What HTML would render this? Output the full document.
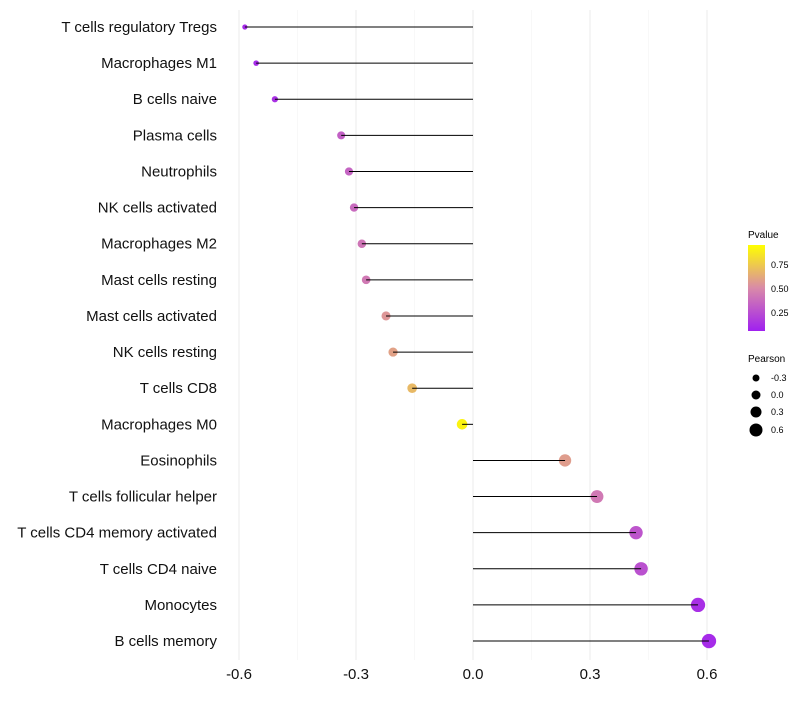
<!DOCTYPE html>
<html><head><meta charset="utf-8"><style>
body{margin:0;background:#fff;font-family:"Liberation Sans",sans-serif}
</style></head><body>
<svg id="chart" width="800" height="700" xmlns="http://www.w3.org/2000/svg">
<defs><linearGradient id="pg" x1="0" y1="1" x2="0" y2="0">
<stop offset="0" stop-color="#A020F0"/><stop offset="0.5" stop-color="#D98AA8"/><stop offset="1" stop-color="#FFFF00"/>
</linearGradient></defs>
<g id="grid"></g><g id="pts"></g><g id="marks"></g><g id="labels"></g>
<g font-size="9">
<text x="748" y="238" font-size="10">Pvalue</text>
<rect x="748" y="245" width="17" height="86" fill="url(#pg)"/>
<text x="771" y="268">0.75</text><text x="771" y="292">0.50</text><text x="771" y="316">0.25</text>
</g>
<g font-size="9">
<text x="748" y="362" font-size="10">Pearson</text>
<circle cx="756" cy="378" r="3.5"/><text x="771" y="381">-0.3</text>
<circle cx="756" cy="395" r="4.5"/><text x="771" y="398">0.0</text>
<circle cx="756" cy="412" r="5.5"/><text x="771" y="415">0.3</text>
<circle cx="756" cy="430" r="6.5"/><text x="771" y="433">0.6</text>
</g>
</svg>
<script>
const cells=["T cells regulatory  Tregs","Macrophages M1","B cells naive","Plasma cells","Neutrophils","NK cells activated","Macrophages M2","Mast cells resting","Mast cells activated","NK cells resting","T cells CD8","Macrophages M0","Eosinophils","T cells follicular helper","T cells CD4 memory activated","T cells CD4 naive","Monocytes","B cells memory"];
const pearson=[-0.585,-0.556,-0.508,-0.338,-0.318,-0.305,-0.285,-0.274,-0.223,-0.205,-0.156,-0.028,0.236,0.318,0.418,0.431,0.577,0.605];
const pvalue=[0.05,0.05,0.08,0.3,0.32,0.35,0.4,0.42,0.55,0.6,0.7,0.95,0.58,0.42,0.25,0.23,0.07,0.05];
const ticks=[-0.6,-0.3,0,0.3,0.6];
const tickLabels=["-0.6","-0.3","0.0","0.3","0.6"];
const NS="http://www.w3.org/2000/svg";
const x=v=>473+v*390, y=i=>27+i*36.12;
function mk(t,a,p){const e=document.createElementNS(NS,t);for(const k in a)e.setAttribute(k,a[k]);p.appendChild(e);return e;}
function lerp(a,b,t){return a.map((v,i)=>Math.round(v+(b[i]-v)*t));}
function col(p){const s=[[160,32,240],[217,138,168],[255,255,0]];let t=Math.max(0,Math.min(1,p));const c=t<0.5?lerp(s[0],s[1],t/0.5):lerp(s[1],s[2],(t-0.5)/0.5);return `rgb(${c})`;}
const g=document.getElementById('grid'),m=document.getElementById('marks'),l=document.getElementById('labels'),pg=document.getElementById('pts');
[-0.45,-0.15,0.15,0.45].forEach(v=>{const e=mk('line',{x1:x(v),x2:x(v),y1:10,y2:660,stroke:'#f3f3f3','stroke-width':0.6},g);

});
ticks.forEach((v,i)=>{const e=mk('line',{x1:x(v),x2:x(v),y1:10,y2:660,stroke:'#ebebeb','stroke-width':1},g);


const t=mk('text',{x:x(v),y:679,'text-anchor':'middle','font-size':15,fill:'#111'},l);t.textContent=tickLabels[i];

});
cells.forEach((c,i)=>{const t=mk('text',{x:217,y:y(i)+5,'text-anchor':'end','font-size':15,fill:'#111'},l);t.textContent=c;


const ln=mk('line',{x1:x(0),x2:x(pearson[i]),y1:y(i),y2:y(i),stroke:'#000','stroke-width':1},m);


const r=Math.sqrt(Math.max(2.5,29+38*pearson[i]));
const ci=mk('circle',{cx:x(pearson[i]),cy:y(i),r:r,fill:col(pvalue[i])},pg);

});
</script>
</body></html>
